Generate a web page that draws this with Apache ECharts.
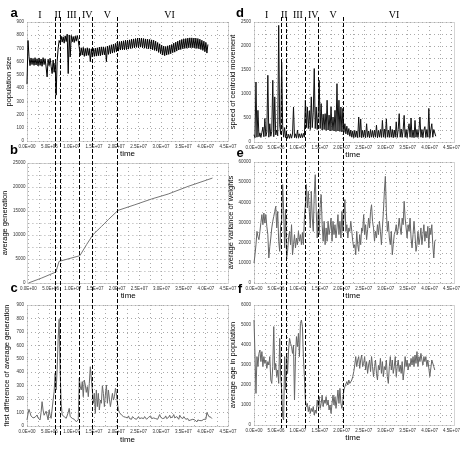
<!DOCTYPE html>
<html><head><meta charset="utf-8">
<script src="https://cdn.jsdelivr.net/npm/echarts@6/dist/echarts.min.js"></script>
<style>html,body{margin:0;padding:0;background:#fff}#c{width:463px;height:454px}</style>
</head><body><div id="c"></div>
<script>
// ---------------- data ----------------
const timeMax = 4.5e7;
const timeStep = 2.5e6;          // grid step (labels every 5e6)
const sampleStep = 2.25e5;       // sampling interval of the recorded series
const phaseBounds = [6.2e6, 7.35e6, 11.6e6, 14.6e6, 20.2e6];
const phaseNames = ['I', 'II', 'III', 'IV', 'V', 'VI'];
const phaseLabelTimes = [2.9e6, 6.9e6, 10.0e6, 13.5e6, 18.0e6, 31.9e6];

const populationSize = [430,760,640,570,628,578,624,572,630,575,622,568,628,572,620,565,630,578,622,560,485,618,570,625,565,510,612,520,590,347,600,700,760,742,792,748,788,740,795,752,808,510,802,636,798,750,790,745,793,755,798,760,705,645,705,650,708,640,700,645,705,648,700,600,695,635,700,640,702,642,705,645,710,645,712,650,712,652,708,600,718,655,722,660,728,665,732,670,738,675,748,680,752,688,755,690,758,690,762,692,762,695,765,700,770,702,772,705,775,708,778,705,778,710,778,705,775,702,772,700,770,698,768,695,765,690,762,685,755,680,745,670,735,660,725,650,718,645,715,650,720,655,725,660,730,668,740,672,748,680,755,688,762,692,768,698,772,700,775,702,778,705,780,705,780,705,778,702,778,700,775,698,770,692,762,685,755,675,745,665,730];

const avgGenTimes = [0, 3.0e6, 6.2e6, 6.9e6, 7.35e6, 11.6e6, 13.1e6, 14.55e6, 16.5e6, 18.0e6, 20.2e6, 24.0e6, 27.75e6, 31.5e6, 36.0e6, 41.5e6];
const avgGeneration = [0, 1040, 2290, 4500, 4720, 5690, 7980, 10060, 11800, 13190, 15130, 16300, 17500, 18530, 20130, 21860];

const firstDiff = [45,90,124,100,75,70,60,57,65,75,82,60,50,45,100,181,119,80,70,110,119,45,119,80,57,45,193,255,392,268,420,650,794,400,169,82,75,70,60,57,45,100,131,70,60,57,55,50,45,32,40,45,355,290,268,330,218,342,305,250,293,218,317,441,454,268,169,243,94,268,144,243,119,193,169,300,243,144,230,305,169,268,200,144,193,243,193,218,280,240,169,119,100,94,82,75,70,80,65,70,60,75,55,65,50,70,60,55,65,50,60,70,55,45,60,65,55,70,60,50,55,65,60,75,55,50,60,70,55,45,50,60,85,65,60,55,50,60,75,55,45,65,80,60,50,70,85,60,55,70,60,50,80,65,60,55,70,60,50,45,55,40,50,45,35,50,40,45,35,30,45,55,40,30,40,45,50,40,50,100,90,70,60,65,55];

const speedCentroid = [150,90,1250,100,660,110,190,95,200,310,110,490,120,210,1390,100,380,120,220,1285,110,940,150,250,130,2430,360,160,1665,340,100,300,90,170,80,160,75,170,80,165,730,90,170,80,250,90,170,85,175,90,180,100,870,300,730,280,650,260,940,300,620,1530,280,730,260,600,1285,280,800,250,580,260,590,240,870,250,560,230,730,240,520,230,660,220,1215,230,870,220,730,210,700,200,380,170,330,150,280,120,250,100,230,90,240,100,230,90,520,100,480,90,240,100,250,90,380,100,230,90,260,100,240,95,250,100,350,90,240,100,260,95,450,100,270,90,480,100,250,95,330,100,260,90,250,100,420,95,260,590,100,270,95,250,555,100,260,90,250,380,100,500,95,250,90,450,100,260,95,250,520,100,260,90,250,320,95,260,100,700,90,250,380,100,260,300,120];

const avgVariance = [9900,14000,19000,25600,23000,21500,25600,30000,33900,28900,34700,29700,33900,28000,24000,12400,18000,22300,27300,30600,33000,35500,38000,27300,35500,20700,15700,28900,30600,48800,36000,17400,36400,12400,15700,22300,25600,19000,28900,14000,19000,24000,17400,22300,19000,25600,20700,24000,19000,25000,19000,32200,38800,48800,37200,45500,35500,27300,45500,32200,25600,43800,53700,35500,22300,35500,24000,38800,43800,28900,20700,30600,19000,27300,20700,30600,24000,27300,32200,20700,30600,24000,28900,22300,27300,33900,24000,30600,22300,35500,25600,32200,41300,25600,28900,22300,27300,25600,30600,25600,20700,17400,19000,14000,25600,19000,15700,24000,19000,27300,25600,33900,24000,28900,21500,26400,32200,27300,35500,38800,30600,27300,20700,25600,22300,28900,24000,30600,25600,19000,27300,35500,45500,52900,35500,25600,30600,22300,19000,25600,14000,19000,24000,25600,28900,24000,27300,32200,27300,24000,32200,28900,40500,32200,27300,22300,28900,25600,32200,22300,17400,24000,30600,24000,15700,19000,25600,19000,22300,27300,19000,24000,28900,20700,25600,22300,28100,17400,27300,24000,28900,19000,12400,20700,21500];

const avgAge = [5250,3500,1580,3420,2920,3580,3750,3170,3670,2920,3420,3080,3250,2830,3170,3000,3420,2250,2080,2920,4920,2750,3080,2420,2750,2080,4330,2420,1750,420,250,3420,1750,3580,2580,3750,4330,4080,3920,3580,4000,1250,3420,4420,3920,4580,3420,5080,5250,4920,3420,2420,1250,920,1080,670,920,580,830,670,920,500,750,580,1250,920,1420,830,1080,1500,920,1250,1080,1420,1000,1250,750,1000,580,1080,1500,1000,1420,830,1250,1750,1080,1830,1080,830,1250,1750,1920,1830,2170,2000,2250,2080,2000,2250,2420,2670,3000,3420,2920,3250,3420,2830,3250,3500,2920,3080,3420,2750,3170,2580,3000,3250,2670,3420,2920,2420,2920,3250,2580,2250,3000,2750,3330,2580,3170,2420,2920,2750,3250,2420,2080,2920,3420,2750,3250,2580,2920,3420,2420,2920,3250,2670,3000,2580,3170,2250,2750,3420,2920,3250,2750,3080,2920,3330,3000,3420,2920,3500,3080,3670,2920,3420,3170,3580,3250,3000,3420,3170,3420,2920,3250,3330,2420,2500,3250,3170,2920,2750];

// ---------------- chart ----------------
const FONT = 'Arial, "Liberation Sans", sans-serif';
function sci(v) {
  if (v === 0) return '0.0E+00';
  const e = Math.floor(Math.log10(v) + 1e-9);
  const m = v / Math.pow(10, e);
  return m.toFixed(1) + 'E+' + String(e).padStart(2, '0');
}
const sampled = arr => arr.map((v, i) => [i * sampleStep, v]);
const paired = (ts, vs) => ts.map((t, i) => [t, vs[i]]);

const panels = [
  {g:{left:27,top:22,width:201,height:119}, ymax:900, yint:100, lstep:100, name:'population size', ngap:10, xgap:6, data:sampled(populationSize), color:'#000'},
  {g:{left:27,top:163,width:201,height:120}, ymax:25000, yint:2500, lstep:5000, name:'average generation', ngap:15, xgap:9, data:paired(avgGenTimes, avgGeneration), color:'#777'},
  {g:{left:27,top:305,width:201,height:121}, ymax:900, yint:100, lstep:100, name:'first difference of average generation', ngap:16, xgap:10, data:sampled(firstDiff), color:'#6a6a6a'},
  {g:{left:254,top:22,width:200,height:120}, ymax:2500, yint:250, lstep:500, name:'speed of centroid movement', ngap:12, xgap:5, data:sampled(speedCentroid), color:'#111'},
  {g:{left:254,top:162,width:200,height:121}, ymax:60000, yint:5000, lstep:10000, name:'average variance of weights', ngap:13, xgap:8, data:sampled(avgVariance), color:'#666'},
  {g:{left:254,top:305,width:200,height:120}, ymax:6000, yint:500, lstep:1000, name:'average age in population', ngap:12, xgap:8, data:sampled(avgAge), color:'#666'}
];

const dotted = {color:'#aaa', width:1, type:[1,3]};
const option = {
  animation: false,
  backgroundColor: '#fff',
  grid: panels.map(p => Object.assign({containLabel:false}, p.g)),
  xAxis: panels.map((p, i) => ({
    type:'value', gridIndex:i, min:0, max:timeMax, interval:timeStep,
    axisLine:{show:false}, axisTick:{show:false},
    splitLine:{show:true, lineStyle:dotted},
    axisLabel:{fontSize:4.5, color:'#333', margin:3, fontFamily:FONT,
      formatter: v => (Math.round(v / timeStep) % 2 === 0 ? sci(v) : '')},
    name:'time', nameLocation:'middle', nameGap:p.xgap,
    nameTextStyle:{fontSize:8, color:'#000', fontFamily:FONT}
  })),
  yAxis: panels.map((p, i) => ({
    type:'value', gridIndex:i, min:0, max:p.ymax, interval:p.yint,
    axisLine:{show:false}, axisTick:{show:false},
    splitLine:{show:true, lineStyle:dotted},
    axisLabel:{fontSize:4.5, color:'#333', margin:3, fontFamily:FONT,
      formatter: v => (Math.round(v) % p.lstep === 0 ? String(v) : '')},
    name:p.name, nameLocation:'middle', nameGap:p.ngap,
    nameTextStyle:{fontSize:7.5, color:'#000', fontFamily:FONT}
  })),
  series: panels.map((p, i) => ({
    type:'line', xAxisIndex:i, yAxisIndex:i, data:p.data, symbol:'none',
    lineStyle:{color:p.color, width:1}, silent:true
  }))
};
const chart = echarts.init(document.getElementById('c'), null, {renderer:'canvas'});
chart.setOption(option);

// overlays: frames, phase boundaries, phase names, panel letters
const graphics = [];
panels.forEach(p => {
  graphics.push({type:'rect', silent:true, shape:{x:p.g.left+0.5, y:p.g.top+0.5, width:p.g.width, height:p.g.height},
    style:{fill:null, stroke:'#aaa', lineWidth:1, lineDash:[1,1]}});
});
const columns = [{axis:0, y1:17, y2:436}, {axis:3, y1:17, y2:428}];
columns.forEach(col => {
  phaseBounds.forEach(t => {
    const x = Math.round(chart.convertToPixel({xAxisIndex:col.axis}, t)) + 0.5;
    graphics.push({type:'line', silent:true, z:100, shape:{x1:x, y1:col.y1, x2:x, y2:col.y2},
      style:{stroke:'#000', lineWidth:1, lineDash:[4,2]}});
  });
  phaseLabelTimes.forEach((t, k) => {
    const x = chart.convertToPixel({xAxisIndex:col.axis}, t);
    graphics.push({type:'text', silent:true, z:100, x:x, y:15,
      style:{text:phaseNames[k], fill:'#000', font:'10px "Liberation Serif", "Times New Roman", serif', align:'center', verticalAlign:'middle'}});
  });
});
const letters = [['a',14,13],['b',14,150],['c',14,288],['d',240,13],['e',240,153],['f',240,289]];
letters.forEach(([s, x, y]) => graphics.push({type:'text', silent:true, z:100, x:x, y:y,
  style:{text:s, fill:'#000', font:'bold 13px Arial, "Liberation Sans", sans-serif', align:'center', verticalAlign:'middle'}}));
chart.setOption({graphic: graphics});
</script>
</body></html>
